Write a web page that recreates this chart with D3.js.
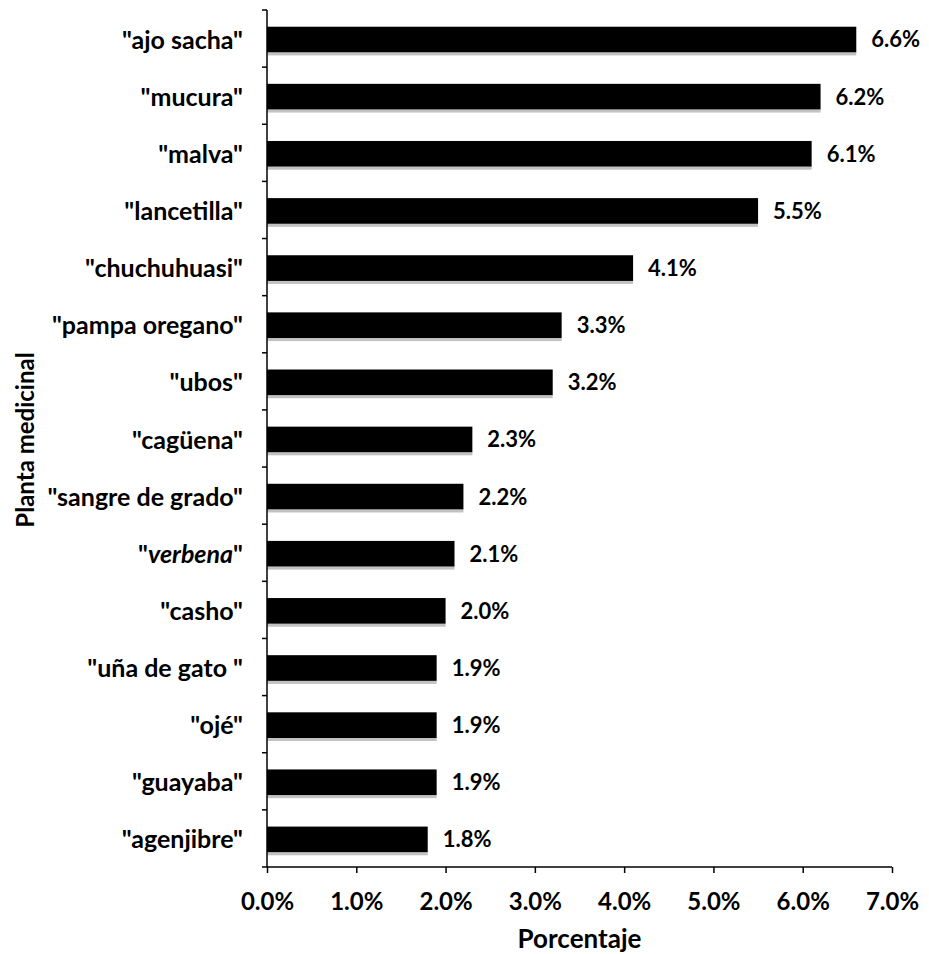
<!DOCTYPE html>
<html>
<head>
<meta charset="utf-8">
<script src="https://cdn.jsdelivr.net/npm/d3@7"></script>
<style>
  html, body { margin: 0; padding: 0; background: #fff; }
  svg { display: block; }
  text { font-family: Lato, "Open Sans", sans-serif; font-weight: bold; fill: #000; }
</style>
</head>
<body>
<svg id="chart" width="929" height="954"></svg>
<script>
const categories = ['"ajo sacha"', '"mucura"', '"malva"', '"lancetilla"', '"chuchuhuasi"',
  '"pampa oregano"', '"ubos"', '"cagüena"', '"sangre de grado"', '"verbena"',
  '"casho"', '"uña de gato "', '"ojé"', '"guayaba"', '"agenjibre"'];
const values = [6.6, 6.2, 6.1, 5.5, 4.1, 3.3, 3.2, 2.3, 2.2, 2.1, 2.0, 1.9, 1.9, 1.9, 1.8];
const xTicks = [0, 1, 2, 3, 4, 5, 6, 7];
const italicCategories = ['"verbena"'];
const xTitle = "Porcentaje";
const yTitle = "Planta medicinal";

(function () {
const svg = d3.select("#chart");
const mL = 267, mR = 892, mT = 10, mB = 867;

const x = d3.scaleLinear().domain([0, 7]).range([mL, mR]);
const y = d3.scaleBand().domain(categories).range([mT, mB]).paddingInner(0.55).paddingOuter(0.275);

// bars
svg.append("g").selectAll("rect").data(values).join("rect")
  .attr("x", x(0))
  .attr("y", (d, i) => y(categories[i]) + 1)
  .attr("width", d => x(d) - x(0))
  .attr("height", y.bandwidth())
  .attr("fill", "#000");

// faint scan fringe under bars
svg.append("g").selectAll("rect").data(values).join("rect")
  .attr("x", x(0))
  .attr("y", (d, i) => y(categories[i]) + 1 + y.bandwidth())
  .attr("width", d => x(d) - x(0))
  .attr("height", 3)
  .attr("fill", "#9a9a9a")
  .attr("opacity", 0.6);

// value labels
svg.append("g").selectAll("text").data(values).join("text")
  .attr("x", d => x(d) + 15)
  .attr("y", (d, i) => y(categories[i]) + 1 + y.bandwidth() / 2)
  .attr("dy", "0.36em")
  .attr("font-size", 22)
  .text(d => d.toFixed(1) + "%");

// y axis
const yAxisG = svg.append("g");
yAxisG.append("line").attr("x1", mL).attr("x2", mL).attr("y1", mT).attr("y2", mB)
  .attr("stroke", "#000").attr("stroke-width", 1.5);
const step = (mB - mT) / categories.length;
const boundaries = d3.range(categories.length + 1).map(i => mT + i * step);
yAxisG.selectAll("line.tk").data(boundaries).join("line").attr("class", "tk")
  .attr("x1", mL - 5).attr("x2", mL).attr("y1", d => d).attr("y2", d => d)
  .attr("stroke", "#000").attr("stroke-width", 1.5);

// category labels
svg.append("g").selectAll("text").data(categories).join("text")
  .attr("x", mL - 24)
  .attr("y", d => y(d) + 1 + y.bandwidth() / 2)
  .attr("dy", "0.36em")
  .attr("text-anchor", "end")
  .attr("font-size", 25)
  .each(function(d) {
    const t = d3.select(this);
    if (italicCategories.includes(d)) {
      t.append("tspan").text('"');
      t.append("tspan").attr("font-style", "italic").text(d.slice(1, -1));
      t.append("tspan").text('"');
    } else {
      t.text(d);
    }
  });

// x axis
const xAxis = d3.axisBottom(x).tickValues(xTicks).tickSize(6).tickPadding(20)
  .tickFormat(d => d.toFixed(1) + "%");
const xg = svg.append("g").attr("transform", `translate(0,${mB})`).call(xAxis);
xg.select(".domain").attr("stroke-width", 1.5).attr("d", `M${mL},0H${mR}`);
xg.selectAll(".tick line").attr("stroke-width", 1.5);
xg.selectAll(".tick text").attr("font-size", 24).attr("font-family", "Lato, sans-serif")
  .attr("font-weight", "bold").attr("fill", "#000");

// titles
svg.append("text").attr("x", (mL + mR) / 2).attr("y", 948)
  .attr("text-anchor", "middle").attr("font-size", 26).text(xTitle);
svg.append("text").attr("transform", `translate(34,440) rotate(-90)`)
  .attr("text-anchor", "middle").attr("font-size", 24).text(yTitle);
})();
</script>
</body>
</html>
